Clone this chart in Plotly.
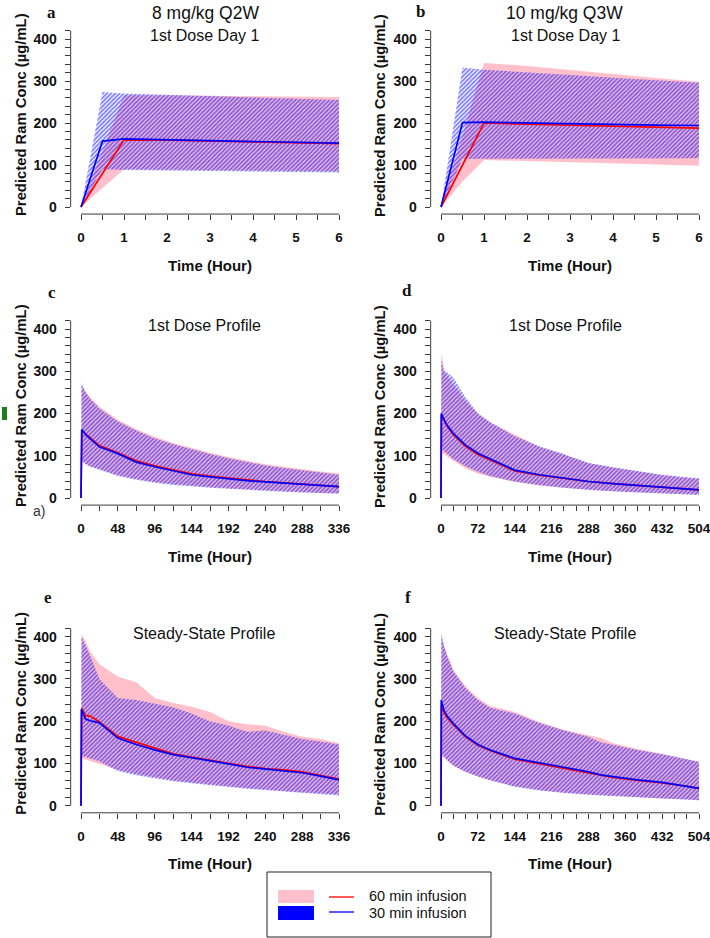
import plotly.graph_objects as go

# ---------------- data ----------------
# Panel a: 8 mg/kg Q2W, 1st dose day 1
t_a = [0, 0.5, 1, 2, 3, 4, 5, 6]
med60_a = [0, 80, 160, 159, 157, 155, 153, 151]
med30_a = [0, 157, 162, 160, 158, 156, 154, 152]
hi60_a = [0, 132, 266, 266, 265, 264, 263, 262]
lo60_a = [0, 45, 90, 89, 88, 87, 86, 85]
hi30_a = [0, 274, 270, 267, 264, 261, 258, 255]
lo30_a = [0, 90, 88, 87, 86, 85, 83, 82]

# Panel b: 10 mg/kg Q3W, 1st dose day 1
t_b = [0, 0.5, 1, 2, 3, 4, 5, 6]
med60_b = [0, 100, 200, 197, 195, 193, 191, 188]
med30_b = [0, 201, 202, 200, 198, 197, 195, 194]
hi60_b = [0, 171, 343, 336, 326, 316, 307, 298]
lo60_b = [0, 60, 112, 110, 107, 104, 101, 98]
hi30_b = [0, 332, 327, 320, 314, 308, 302, 296]
lo30_b = [0, 114, 115, 115, 116, 116, 116, 116]

# Panel c: 8 mg/kg Q2W, 1st dose profile
t_c = [0, 0.5, 1, 6, 12, 24, 48, 72, 96, 120, 144, 168, 192, 216, 240, 264, 288, 312, 336]
med60_c = [0, 80, 160, 152, 142, 124, 107, 88, 76, 66, 57, 52, 47, 43, 39, 36, 33, 30, 27]
med30_c = [0, 160, 162, 150, 140, 121, 105, 85, 74, 64, 55, 50, 45, 41, 38, 35, 33, 30, 27]
hi60_c = [0, 130, 266, 252, 238, 216, 185, 163, 145, 130, 118, 107, 97, 88, 80, 74, 68, 63, 58]
lo60_c = [0, 45, 90, 82, 76, 68, 54, 45, 38, 33, 29, 26, 23, 20, 18, 16, 14, 12, 11]
hi30_c = [0, 272, 270, 250, 235, 212, 181, 160, 141, 127, 115, 104, 94, 85, 77, 71, 66, 60, 55]
lo30_c = [0, 88, 87, 80, 74, 66, 52, 43, 36, 31, 28, 24, 21, 19, 17, 15, 13, 11, 10]

# Panel d: 10 mg/kg Q3W, 1st dose profile
t_d = [0, 0.5, 1, 6, 12, 24, 48, 72, 96, 144, 192, 240, 288, 336, 384, 432, 480, 504]
med60_d = [0, 100, 195, 185, 170, 150, 122, 103, 90, 64, 54, 46, 39, 34, 30, 25, 21, 19]
med30_d = [0, 200, 199, 185, 172, 153, 125, 106, 93, 66, 55, 47, 39, 34, 30, 25, 21, 19]
hi60_d = [0, 170, 342, 305, 290, 270, 230, 200, 178, 150, 122, 103, 83, 72, 63, 54, 48, 45]
lo60_d = [0, 60, 106, 104, 98, 88, 70, 58, 50, 38, 30, 24, 20, 16, 13, 11, 9, 8]
hi30_d = [0, 330, 325, 300, 297, 285, 238, 200, 180, 146, 122, 104, 83, 73, 64, 55, 49, 47]
lo30_d = [0, 118, 116, 110, 104, 92, 75, 62, 52, 39, 30, 24, 19, 16, 13, 11, 8, 7]

# Panel e: 8 mg/kg Q2W, steady-state profile
t_e = [0, 0.5, 1, 6, 12, 24, 48, 72, 96, 120, 144, 168, 192, 216, 240, 264, 288, 312, 336]
med60_e = [0, 115, 230, 213, 212, 198, 164, 150, 136, 123, 115, 108, 101, 93, 88, 85, 80, 72, 63]
med30_e = [0, 228, 225, 205, 201, 196, 160, 145, 132, 121, 114, 107, 99, 91, 87, 83, 78, 70, 61]
hi60_e = [0, 200, 405, 390, 365, 335, 305, 292, 255, 243, 234, 222, 200, 193, 189, 175, 163, 158, 148]
lo60_e = [0, 55, 112, 110, 106, 98, 85, 75, 67, 60, 55, 50, 46, 42, 38, 35, 32, 29, 27]
hi30_e = [0, 400, 398, 380, 355, 300, 255, 250, 242, 233, 218, 200, 190, 175, 178, 168, 158, 152, 145]
lo30_e = [0, 120, 118, 115, 112, 105, 82, 72, 65, 58, 53, 48, 44, 40, 36, 33, 30, 27, 24]

# Panel f: 10 mg/kg Q3W, steady-state profile
t_f = [0, 0.5, 1, 6, 12, 24, 48, 72, 96, 144, 192, 240, 288, 312, 336, 384, 432, 480, 504]
med60_f = [0, 120, 240, 220, 208, 192, 163, 143, 131, 110, 99, 88, 78, 72, 67, 60, 54, 46, 41]
med30_f = [0, 250, 247, 225, 212, 195, 165, 145, 132, 112, 102, 91, 80, 73, 69, 61, 55, 46, 41]
hi60_f = [0, 200, 400, 380, 358, 322, 282, 255, 236, 222, 198, 180, 166, 160, 148, 134, 123, 111, 104]
lo60_f = [0, 58, 118, 112, 106, 94, 80, 69, 60, 46, 37, 31, 27, 25, 23, 20, 17, 15, 13]
hi30_f = [0, 410, 405, 378, 355, 318, 278, 250, 232, 218, 196, 178, 163, 150, 144, 132, 122, 110, 104]
lo30_f = [0, 128, 125, 115, 108, 95, 80, 69, 60, 45, 36, 30, 26, 24, 22, 20, 17, 14, 13]

col_titles = ["8 mg/kg Q2W", "10 mg/kg Q3W"]
row_titles = ["1st Dose Day 1", "1st Dose Profile", "Steady-State Profile"]
panel_letters = ["a", "b", "c", "d", "e", "f"]
x_title = "Time (Hour)"
y_title = "Predicted Ram Conc (\u00b5g/mL)"
legend_labels = ["60 min infusion", "30 min infusion"]
y_ticks = list(range(0, 421, 20))

panels = [
    dict(t=t_a, m60=med60_a, m30=med30_a, h60=hi60_a, l60=lo60_a, h30=hi30_a, l30=lo30_a, xmax=6, major=1, minor=0.5),
    dict(t=t_b, m60=med60_b, m30=med30_b, h60=hi60_b, l60=lo60_b, h30=hi30_b, l30=lo30_b, xmax=6, major=1, minor=0.5),
    dict(t=t_c, m60=med60_c, m30=med30_c, h60=hi60_c, l60=lo60_c, h30=hi30_c, l30=lo30_c, xmax=336, major=48, minor=24),
    dict(t=t_d, m60=med60_d, m30=med30_d, h60=hi60_d, l60=lo60_d, h30=hi30_d, l30=lo30_d, xmax=504, major=72, minor=24),
    dict(t=t_e, m60=med60_e, m30=med30_e, h60=hi60_e, l60=lo60_e, h30=hi30_e, l30=lo30_e, xmax=336, major=48, minor=24),
    dict(t=t_f, m60=med60_f, m30=med30_f, h60=hi60_f, l60=lo60_f, h30=hi30_f, l30=lo30_f, xmax=504, major=72, minor=24),
]

# ---------------- layout geometry (pixels) ----------------
W, H = 710, 938
FONT = "Liberation Sans, Arial, sans-serif"
SERIF = "Liberation Serif, Times New Roman, serif"
AXC = "#3a3a3a"
col_x0 = [81, 441]
col_x1 = [339, 699]
row_y0 = [207, 498, 805.7]
row_s = [0.42, 0.4225, 0.4225]
YLIM = 420


def fx(px):
    return px / W


def fy(py):
    return 1 - py / H


fig = go.Figure()
layout = dict(width=W, height=H, margin=dict(l=0, r=0, t=0, b=0),
              plot_bgcolor="white", paper_bgcolor="white", showlegend=False)
shapes = []
annotations = []


def ann(text, px, py, size, weight=400, family=FONT, xanchor="center", angle=0, color="#111"):
    annotations.append(dict(text=text, x=fx(px), y=fy(py), xref="paper", yref="paper",
                            showarrow=False, xanchor=xanchor, yanchor="middle", textangle=angle,
                            borderpad=0,
                            font=dict(family=family, size=size, color=color, weight=weight)))


for i, p in enumerate(panels):
    r, c = i // 2, i % 2
    n = i + 1
    xs = "x" if n == 1 else f"x{n}"
    ys = "y" if n == 1 else f"y{n}"
    x0, x1 = col_x0[c], col_x1[c]
    y0, s = row_y0[r], row_s[r]
    xmax = p["xmax"]
    ext = 0.04 * xmax
    left, right = x0 - 0.04 * (x1 - x0), x1 + 0.04 * (x1 - x0)
    bottom, top = y0 + 0.04 * YLIM * s, y0 - 1.04 * YLIM * s
    t = p["t"]
    # 60 min band (pink)
    fig.add_trace(go.Scatter(x=t + t[::-1], y=p["h60"] + p["l60"][::-1], fill="toself",
                             fillcolor="#FFC0CB", line=dict(width=0), mode="lines",
                             hoverinfo="skip", xaxis=xs, yaxis=ys))
    # 30 min band (blue hatching)
    fig.add_trace(go.Scatter(x=t + t[::-1], y=p["h30"] + p["l30"][::-1], fill="toself",
                             fillcolor="rgba(0,0,0,0)", line=dict(width=0), mode="lines",
                             fillpattern=dict(shape="/", fgcolor="#0000FF", bgcolor="rgba(0,0,0,0)",
                                              size=3, solidity=0.6),
                             hoverinfo="skip", xaxis=xs, yaxis=ys))
    fig.add_trace(go.Scatter(x=t, y=p["m60"], mode="lines", line=dict(color="#FF0000", width=1.7),
                             xaxis=xs, yaxis=ys))
    fig.add_trace(go.Scatter(x=t, y=p["m30"], mode="lines", line=dict(color="#0000FF", width=1.7),
                             xaxis=xs, yaxis=ys))

    nt = int(round(xmax / p["minor"]))
    xt = [k * p["minor"] for k in range(nt + 1)]
    xl = []
    for v in xt:
        if abs(v / p["major"] - round(v / p["major"])) < 1e-9:
            xl.append(str(int(v)) if float(v).is_integer() else str(v))
        else:
            xl.append("")
    ax_key = "xaxis" if n == 1 else f"xaxis{n}"
    ay_key = "yaxis" if n == 1 else f"yaxis{n}"
    layout[ax_key] = dict(domain=[fx(left), fx(right)], range=[-ext, xmax + ext], anchor=ys,
                          showgrid=False, zeroline=False, showline=False,
                          ticks="outside", ticklen=5, tickwidth=1, tickcolor=AXC,
                          tickmode="array", tickvals=xt, ticktext=xl, ticklabelstandoff=6,
                          ticklabeloverflow="allow",
                          tickfont=dict(family=FONT, size=13.5, color="#111", weight=700))
    layout[ay_key] = dict(domain=[fy(bottom), fy(top)], range=[-0.04 * YLIM, 1.04 * YLIM], anchor=xs,
                          showgrid=False, zeroline=False, showline=False,
                          ticks="outside", ticklen=5, tickwidth=1, tickcolor=AXC,
                          tickmode="array", tickvals=y_ticks,
                          ticktext=[str(v) if v % 100 == 0 else "" for v in y_ticks],
                          ticklabelstandoff=5, ticklabeloverflow="allow",
                          tickfont=dict(family=FONT, size=14, color="#111", weight=700))
    # R-style axis lines spanning only the tick range
    shapes.append(dict(type="line", xref="paper", yref="paper", x0=fx(x0), x1=fx(x1),
                       y0=fy(bottom), y1=fy(bottom), line=dict(color=AXC, width=1)))
    shapes.append(dict(type="line", xref="paper", yref="paper", x0=fx(left), x1=fx(left),
                       y0=fy(y0), y1=fy(y0 - YLIM * s), line=dict(color=AXC, width=1)))
    # axis titles
    ann(x_title, (x0 + x1) / 2, bottom + 51, 15, weight=700)
    ann(y_title, 21 + 359 * c, y0 - 92, 14.8, weight=700, angle=-90)
    # sub titles
    ann(row_titles[r], 204 + 361 * c, [35, 325, 633][r], 16)
    # panel letters
    lp = [(51, 13), (420, 11), (52, 292), (407, 290), (48, 597), (408, 597)][i]
    ann(panel_letters[i], lp[0], lp[1], 17, weight=700, family=SERIF)

# column titles
ann(col_titles[0], 205, 13, 17.5)
ann(col_titles[1], 564, 13, 17.5)

# stray marks present in the reference image
shapes.append(dict(type="rect", xref="paper", yref="paper", x0=fx(2), x1=fx(7), y0=fy(420), y1=fy(407),
                   fillcolor="#1E7B1E", line=dict(width=0)))
ann("a)", 32, 511, 14, xanchor="left", color="#333")

# legend
shapes.append(dict(type="rect", xref="paper", yref="paper", x0=fx(267), x1=fx(491), y0=fy(937), y1=fy(872),
                   fillcolor="white", line=dict(color="#222", width=1)))
shapes.append(dict(type="rect", xref="paper", yref="paper", x0=fx(278), x1=fx(314), y0=fy(903), y1=fy(890),
                   fillcolor="#FFC0CB", line=dict(width=0)))
shapes.append(dict(type="rect", xref="paper", yref="paper", x0=fx(278), x1=fx(314), y0=fy(920), y1=fy(906),
                   fillcolor="#0000FF", line=dict(width=0)))
shapes.append(dict(type="line", xref="paper", yref="paper", x0=fx(329), x1=fx(354), y0=fy(897), y1=fy(897),
                   line=dict(color="#FF0000", width=1.3)))
shapes.append(dict(type="line", xref="paper", yref="paper", x0=fx(329), x1=fx(354), y0=fy(912), y1=fy(912),
                   line=dict(color="#0000FF", width=1.3)))
ann(legend_labels[0], 368, 896, 14.5, xanchor="left")
ann(legend_labels[1], 368, 913, 14.5, xanchor="left")

layout["shapes"] = shapes
layout["annotations"] = annotations
fig.update_layout(**layout)
fig.write_html("out.html", config={"displayModeBar": False},
               post_script="document.body.style.margin='0';document.body.style.overflow='hidden';")
